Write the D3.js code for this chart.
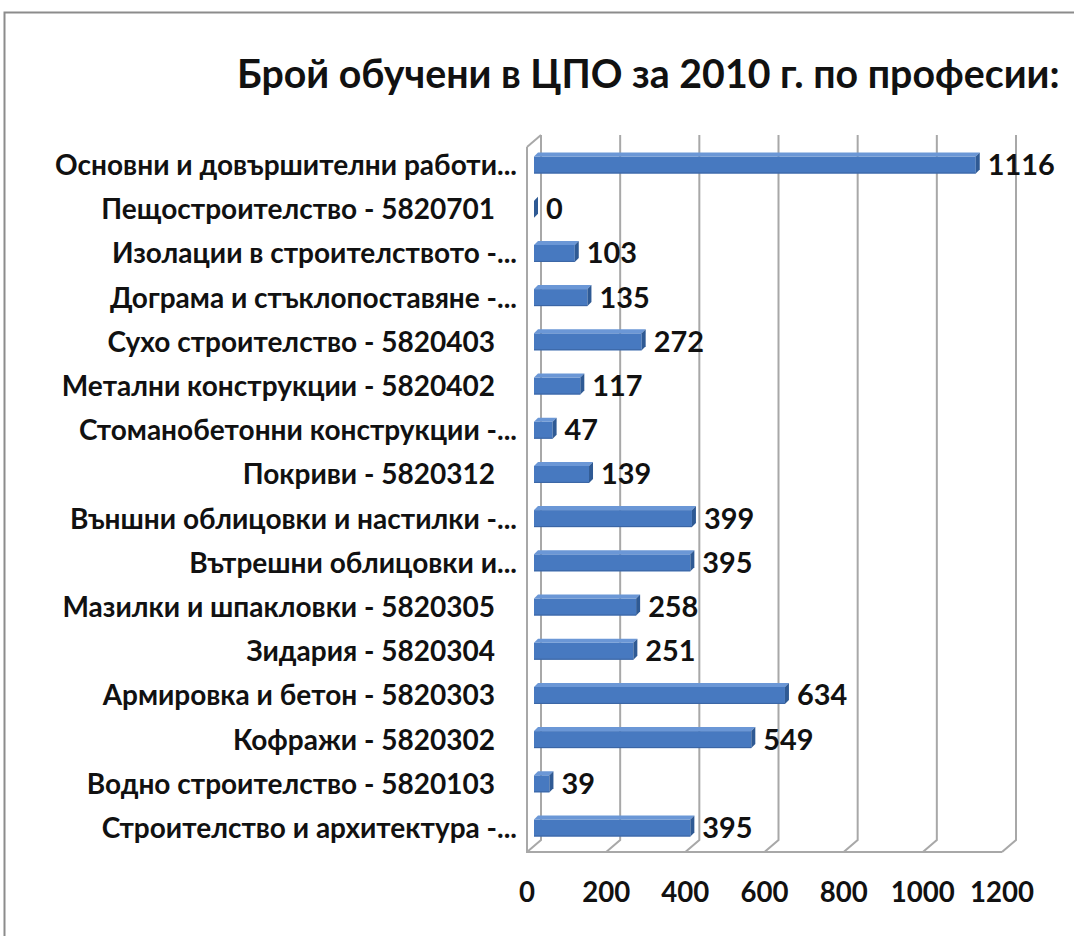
<!DOCTYPE html>
<html>
<head>
<meta charset="utf-8">
<script src="https://cdn.jsdelivr.net/npm/d3@7"></script>
<style>
  html, body { margin: 0; padding: 0; background: #fff; }
  svg { display: block; }
</style>
</head>
<body>
<svg id="chart" width="1074" height="936"></svg>
<script>
// Брой обучени в ЦПО за 2010 г. по професии (top row first)
const categories = [
  "Основни и довършителни работи...",
  "Пещостроителство - 5820701",
  "Изолации в строителството -...",
  "Дограма и стъклопоставяне -...",
  "Сухо строителство - 5820403",
  "Метални конструкции - 5820402",
  "Стоманобетонни конструкции -...",
  "Покриви - 5820312",
  "Външни облицовки и настилки -...",
  "Вътрешни облицовки и...",
  "Мазилки и шпакловки  - 5820305",
  "Зидария - 5820304",
  "Армировка и бетон - 5820303",
  "Кофражи - 5820302",
  "Водно строителство - 5820103",
  "Строителство и архитектура -..."
];
const trainees = [1116, 0, 103, 135, 272, 117, 47, 139, 399, 395, 258, 251, 634, 549, 39, 395];
const xTicks = [0, 200, 400, 600, 800, 1000, 1200];
const titleText = "Брой обучени в ЦПО за 2010 г. по професии:";

const FONT = "Lato, 'Open Sans', sans-serif";
const svg = d3.select("#chart");

// size a font so that a sample string spans the given width
function fitSize(sample, target, weight) {
  const t = svg.append("text").attr("font-family", FONT).attr("font-weight", weight)
    .attr("font-size", 100).text(sample);
  const w = t.node().getComputedTextLength();
  t.remove();
  return 100 * target / w;
}

// chart frame
svg.append("path").attr("d", "M4.5,936 L4.5,12.5 L1074,12.5")
  .attr("fill", "none").attr("stroke", "#8c8c8c").attr("stroke-width", 2);

// title
const titleSize = fitSize(titleText, 823, 700);
svg.append("text").attr("x", 237).attr("y", 72)
  .attr("font-family", FONT).attr("font-weight", 700).attr("font-size", titleSize)
  .attr("dominant-baseline", "central").attr("fill", "#111").text(titleText);

// 3D box geometry: front floor edge and back wall
const DX = 14, DY = 12;
const floorY = 852, wallTop = 135;
const xFront = d3.scaleLinear().domain([0, 1200]).range([527, 1002]);
const xBack = v => xFront(v) + DX;
const xBar = d3.scaleLinear().domain([0, 1200]).range([534, 1009]);
const y = d3.scalePoint().domain(categories).range([163, 826]);

const grid = svg.append("g").attr("fill", "none").attr("stroke", "#a8a8a8").attr("stroke-width", 2);
xTicks.forEach(t => {
  grid.append("path").attr("d",
    `M${xBack(t)},${wallTop} L${xBack(t)},${floorY - DY} L${xFront(t)},${floorY}`);
});
// floor front edge and left wall
grid.append("path").attr("d",
  `M${xFront(0)},${wallTop + DY} L${xFront(0)},${floorY} L${xFront(1200)},${floorY}`);
grid.append("path").attr("d",
  `M${xFront(0)},${wallTop + DY} L${xBack(0)},${wallTop}`);

// bars
const H = 17, D = 4;
const bars = svg.append("g");
categories.forEach((c, i) => {
  const yc = y(c), x0 = xBar(0), x1 = xBar(trainees[i]);
  const yt = yc - H / 2 + 2, yb = yc + H / 2 + 2;
  const g = bars.append("g");
  if (x1 > x0) {
    g.append("rect").attr("x", x0).attr("y", yt).attr("width", x1 - x0).attr("height", H)
      .attr("fill", "#4779c0");
    g.append("path").attr("d", `M${x0},${yt} L${x1},${yt} L${x1 + D},${yt - D} L${x0 + D},${yt - D}Z`)
      .attr("fill", "#6b97d6");
    g.append("line").attr("x1", x0).attr("x2", x1).attr("y1", yb - 0.5).attr("y2", yb - 0.5)
      .attr("stroke", "#3a64a3").attr("stroke-width", 1);
  }
  g.append("path").attr("d", `M${x1},${yt} L${x1 + D},${yt - D} L${x1 + D},${yb - D} L${x1},${yb}Z`)
    .attr("fill", "#2f5a94");
});

// value labels
const valSize = fitSize("1116", 67, 700);
svg.append("g").selectAll("text").data(categories).join("text")
  .attr("x", (c, i) => xBar(trainees[i]) + D + 8)
  .attr("y", c => y(c) + 1)
  .attr("dominant-baseline", "central")
  .attr("font-family", FONT).attr("font-weight", 700).attr("font-size", valSize)
  .attr("fill", "#111")
  .text((c, i) => trainees[i]);

// category labels (truncated names run a little further right)
const catSize = fitSize("Пещостроителство - 5820701", 394, 700);
svg.append("g").selectAll("text").data(categories).join("text")
  .attr("x", c => c.endsWith("...") ? 517 : 495)
  .attr("y", c => y(c) + 1)
  .attr("text-anchor", "end").attr("dominant-baseline", "central")
  .attr("font-family", FONT).attr("font-weight", 700).attr("font-size", catSize)
  .attr("fill", "#111")
  .text(c => c);

// value axis labels
const tickSize = fitSize("1000", 64, 700);
svg.append("g").selectAll("text").data(xTicks).join("text")
  .attr("x", t => xFront(t)).attr("y", 891)
  .attr("text-anchor", "middle").attr("dominant-baseline", "central")
  .attr("font-family", FONT).attr("font-weight", 700).attr("font-size", tickSize)
  .attr("fill", "#111")
  .text(t => t);
</script>
</body>
</html>
